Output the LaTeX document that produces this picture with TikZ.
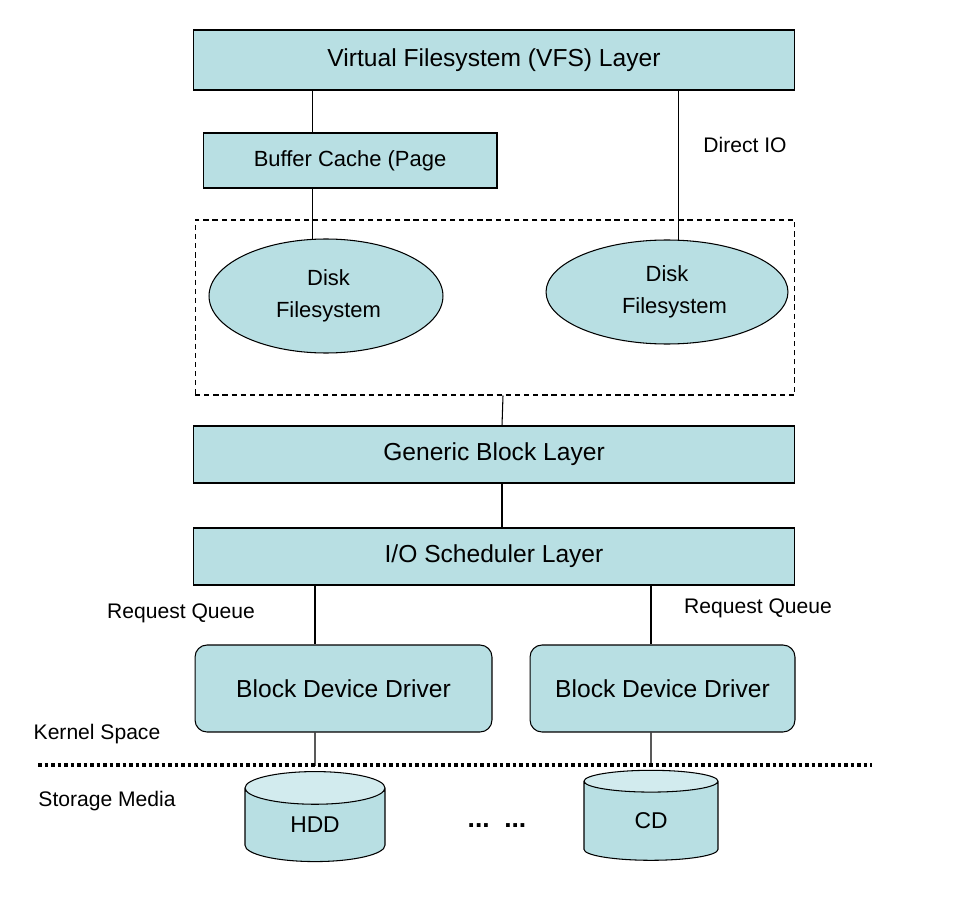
\documentclass[tikz,border=0pt]{standalone}
\usepackage{fontspec}
\setmainfont{Liberation Sans}
\usetikzlibrary{shapes.geometric}
\definecolor{layerblue}{HTML}{B8DFE3}
\definecolor{layertop}{HTML}{D2EBEE}
\begin{document}
\begin{tikzpicture}[x=0.02cm,y=-0.02cm,
    layer/.style={draw,fill=layerblue,line width=0.6pt,minimum width=12.04cm,inner sep=0pt,font=\fontsize{14}{16}\selectfont},
    fsnode/.style={draw,fill=layerblue,line width=0.6pt,ellipse,inner sep=0pt,align=center,font=\fontsize{12.5}{18}\selectfont},
    driver/.style={draw,fill=layerblue,line width=0.6pt,rounded corners=0.24cm,minimum height=1.74cm,inner sep=0pt,font=\fontsize{14}{16}\selectfont},
    disk/.style={draw,line width=0.6pt,cylinder,shape border rotate=90,aspect=0.66,cylinder uses custom fill,cylinder body fill=layerblue,cylinder end fill=layertop,inner sep=0pt,font=\fontsize{13}{15}\selectfont},
    lbl/.style={font=\fontsize{12}{14}\selectfont,inner sep=0pt},
    link/.style={line width=0.6pt}]
    \useasboundingbox (0,0) rectangle (959,915);
    \node[layer,minimum height=1.2cm] (vfs) at (494,60) {Virtual Filesystem (VFS) Layer};
    \node[draw,fill=layerblue,line width=0.6pt,minimum width=5.88cm,minimum height=1.1cm,inner sep=0pt,font=\fontsize{12.5}{15}\selectfont] (cache) at (350,160.5) {Buffer Cache (Page};
    \node[draw,dashed,dash pattern=on 3pt off 2.2pt,line width=0.6pt,minimum width=12cm,minimum height=3.5cm] (fsgroup) at (495,307.5) {};
    \node[fsnode,minimum width=4.68cm,minimum height=2.28cm] (lfs) at (326,296) {\hspace*{0.1cm}Disk\\\hspace*{0.1cm}Filesystem};
    \node[fsnode,minimum width=4.84cm,minimum height=2.08cm] (rfs) at (667,292) {Disk\\\hspace*{0.3cm}Filesystem};
    \node[layer,minimum height=1.14cm] (gblock) at (494,454.5) {Generic Block Layer};
    \node[layer,minimum height=1.14cm] (sched) at (494,556.5) {I/O Scheduler Layer};
    \node[driver,minimum width=5.94cm] (drv1) at (343.5,688.5) {Block Device Driver};
    \node[driver,minimum width=5.3cm] (drv2) at (662.5,688.5) {Block Device Driver};
    \node[disk,minimum width=2.8cm,minimum height=1.8cm] (hdd) at (315,825) {HDD};
    \node[disk,minimum width=2.68cm,minimum height=1.8cm] (cd) at (651,821) {CD};
    \node[lbl] (dio) at (745,145) {Direct IO};
    \node[lbl] (rq1) at (181,613) {Request Queue};
    \node[lbl] (rq2) at (758,608) {Request Queue};
    \node[lbl] (kspace) at (97,734) {Kernel Space};
    \node[lbl] (smedia) at (107,801) {Storage Media};
    \node[font=\fontsize{15}{16}\selectfont\bfseries,inner sep=0pt] (more) at (497,826) {...\ \ ...};
    \coordinate (sepL) at (38,765);
    \coordinate (sepR) at (872,765);
    \draw[link] (vfs.south -| lfs.103) -- (cache.north -| lfs.103);
    \draw[link] (cache.south -| lfs.103) -- (lfs.103);
    \draw[link] (vfs.south -| rfs.78) -- (rfs.78);
    \draw[link] ([xshift=0.16cm]fsgroup.south) -- ([xshift=0.16cm]gblock.north);
    \draw[link] ([xshift=0.16cm]gblock.south) -- ([xshift=0.16cm]sched.north);
    \draw[link] (sched.south -| hdd) -- (drv1.north -| hdd);
    \draw[link] (sched.south -| cd) -- (drv2.north -| cd);
    \draw[line width=2pt,dash pattern=on 2pt off 1.7pt] (sepL) -- (sepR);
    \draw[link,shorten >=3pt] (drv1.south -| hdd) -- (hdd.north);
    \draw[link,shorten >=3pt] (drv2.south -| cd) -- (cd.north);
\end{tikzpicture}
\end{document}
